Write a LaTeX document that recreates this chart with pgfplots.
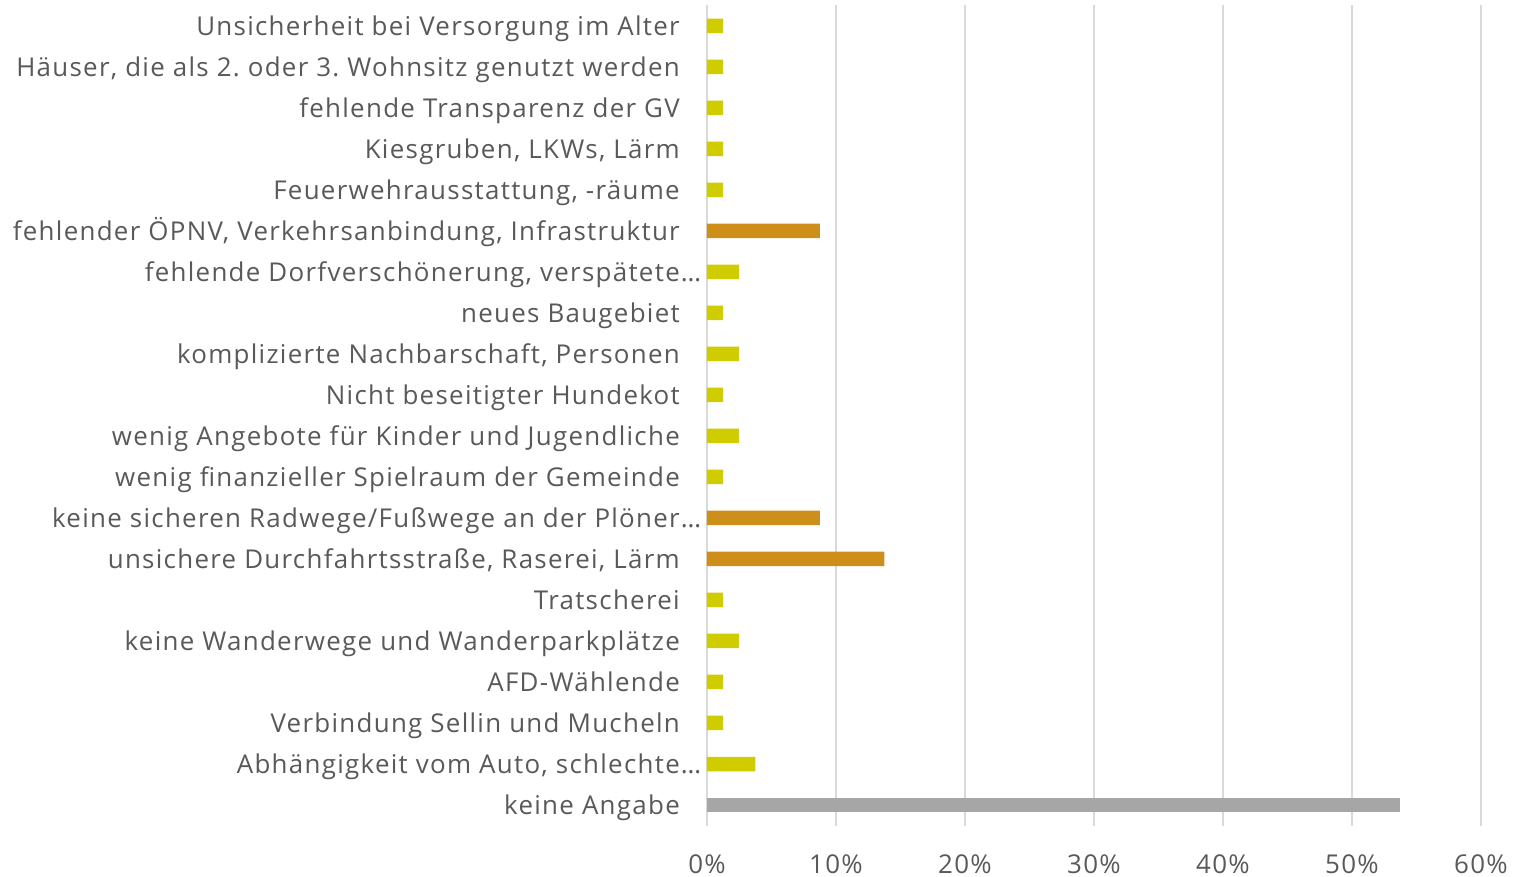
\documentclass[border=0pt]{standalone}
\usepackage{fontspec}
\setmainfont{Open Sans}[LetterSpace=5]
\frenchspacing
\usepackage{pgfplots}
\pgfplotsset{compat=1.18}
\definecolor{txt}{HTML}{595959}
\definecolor{grd}{HTML}{D9D9D9}
\definecolor{ylw}{HTML}{CFCC00}
\definecolor{org}{HTML}{CE8F1A}
\definecolor{gry}{HTML}{A6A6A6}
\newcommand{\ellp}{\rlap{\kern1bp…}}
\begin{document}
\begin{tikzpicture}
\begin{axis}[
  scale only axis,
  width=774bp, height=820bp,
  xmin=0, xmax=60,
  ymin=-0.5, ymax=19.5,
  axis line style={draw=none},
  xmajorgrids, grid style={grd, line width=1.5bp},
  xtick={0,10,20,30,40,50,60},
  xticklabels={0\%,10\%,20\%,30\%,40\%,50\%,60\%},
  ytick={0,...,19},
  yticklabels={
    keine Angabe,
    Abhängigkeit vom Auto{,} schlechte\ellp,
    Verbindung Sellin und Mucheln,
    AFD-Wählende,
    keine Wanderwege und Wanderparkplätze,
    Tratscherei,
    unsichere Durchfahrtsstraße{,} Raserei{,} Lärm,
    keine sicheren Radwege/Fußwege an der Plöner\ellp,
    wenig finanzieller Spielraum der Gemeinde,
    wenig Angebote für Kinder und Jugendliche,
    Nicht beseitigter Hundekot,
    komplizierte Nachbarschaft{,} Personen,
    neues Baugebiet,
    fehlende Dorfverschönerung{,} verspätete\ellp,
    fehlender ÖPNV{,} Verkehrsanbindung{,} Infrastruktur,
    Feuerwehrausstattung{,} -räume,
    Kiesgruben{,} LKWs{,} Lärm,
    fehlende Transparenz der GV,
    Häuser{,} die als 2. oder 3. Wohnsitz genutzt werden,
    Unsicherheit bei Versorgung im Alter},
  major tick length=0pt,
  tick label style={font=\fontsize{26}{30}\selectfont, text=txt, inner sep=0pt},
  yticklabel style={anchor=base east, xshift=-27bp, yshift=-9.5bp},
  xticklabel style={anchor=base, yshift=-48bp},
  /pgf/number format/assume math mode=true,
  xbar, bar shift=0pt, bar width=14.5bp,
  clip=false,
]
\addplot[fill=gry, draw=none] coordinates {(53.75,0)};
\addplot[fill=ylw, draw=none] coordinates {
  (3.75,1) (1.25,2) (1.25,3) (2.5,4) (1.25,5) (1.25,8) (2.5,9) (1.25,10)
  (2.5,11) (1.25,12) (2.5,13) (1.25,15) (1.25,16) (1.25,17) (1.25,18) (1.25,19)};
\addplot[fill=org, draw=none] coordinates {(13.75,6) (8.75,7) (8.75,14)};
\end{axis}
\pgfresetboundingbox
\path (current axis.south west) ++(-707bp,-51.5bp) coordinate (bl);
\path (current axis.north east) ++(33bp,5.5bp) coordinate (tr);
\path[use as bounding box] (bl) rectangle (tr);
\end{tikzpicture}
\end{document}
